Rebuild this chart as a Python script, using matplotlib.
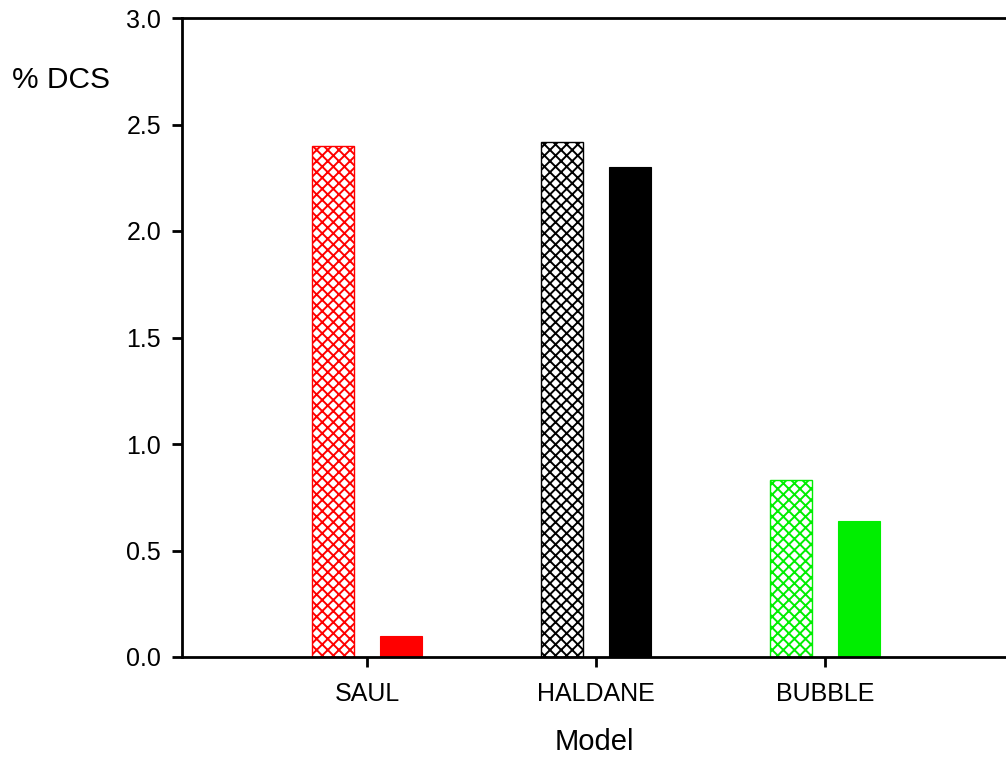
import numpy as np
import matplotlib
matplotlib.use('Agg')
import matplotlib.pyplot as plt

plt.rcParams['font.family'] = ['Liberation Sans', 'DejaVu Sans']
plt.rcParams['hatch.linewidth'] = 1.4

## data
models = ['SAUL', 'HALDANE', 'BUBBLE']
hatched_vals = [2.40, 2.42, 0.83]
solid_vals = [0.10, 2.30, 0.64]
colors = ['#ff0000', '#000000', '#00ee00']

x = np.arange(1, len(models) + 1)
bw = 0.183
off = 0.148

fig = plt.figure(figsize=(10.06, 7.59), dpi=100)
ax = fig.add_axes([182/1006, 1 - 657/759, 1 - 182/1006, (657 - 18)/759])

for i in range(len(models)):
    ax.bar(x[i] - off, hatched_vals[i], width=bw, facecolor='white',
           edgecolor=colors[i], hatch='xxx', linewidth=1.0, zorder=2)
    ax.bar(x[i] + off, solid_vals[i], width=bw, color=colors[i],
           edgecolor=colors[i], linewidth=0.8, zorder=2)

ax.set_xlim(1 - 185/229, 1 + (1006 - 367)/229)
ax.set_ylim(0, 3.0)
ax.set_yticks(np.arange(0, 3.01, 0.5))
ax.set_yticklabels(['%.1f' % v for v in np.arange(0, 3.01, 0.5)])
ax.set_xticks(x)
ax.set_xticklabels(models)

ax.spines['right'].set_visible(False)
for s in ['left', 'top', 'bottom']:
    ax.spines[s].set_linewidth(2.0)
ax.tick_params(axis='y', direction='out', length=7, width=2.0, labelsize=18, pad=8)
ax.tick_params(axis='x', direction='out', length=7, width=2.0, labelsize=18, pad=11)

fig.text(12/1006, 1 - 80/759, '% DCS', fontsize=21.5, va='center', ha='left')
ax.set_xlabel('Model', fontsize=21, labelpad=16)

fig.savefig('out.png', dpi=100)
